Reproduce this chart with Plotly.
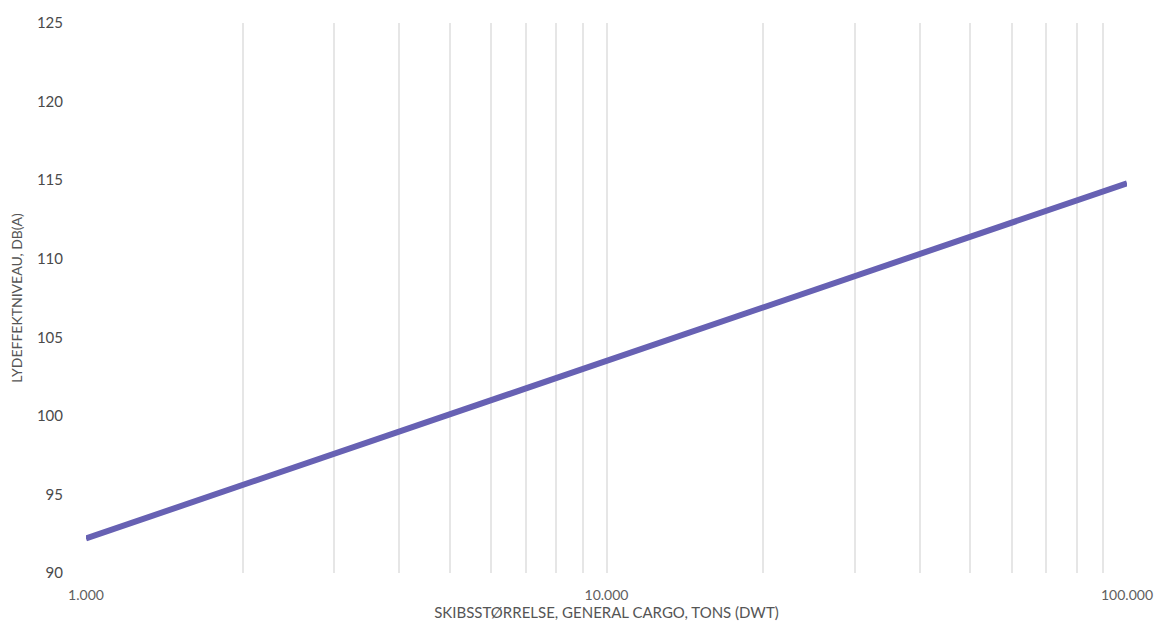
import plotly.graph_objects as go

# Data
dwt = [1000, 2000, 3000, 5000, 10000, 20000, 30000, 50000, 100000]
level_dba = [92.2, 95.6, 97.6, 100.1, 103.5, 106.9, 108.9, 111.4, 114.8]

x_tick_vals = [1000, 2000, 3000, 4000, 5000, 6000, 7000, 8000, 9000,
               10000, 20000, 30000, 40000, 50000, 60000, 70000, 80000, 90000,
               100000]
x_tick_text = ["1.000", "", "", "", "", "", "", "", "",
               "10.000", "", "", "", "", "", "", "", "",
               "100.000"]
y_tick_vals = [90, 95, 100, 105, 110, 115, 120, 125]

x_title = "SKIBSSTØRRELSE, GENERAL CARGO, TONS (DWT)"
y_title = "LYDEFFEKTNIVEAU, DB(A)"

fig = go.Figure()
fig.add_trace(go.Scatter(
    x=dwt, y=level_dba, mode="lines",
    line=dict(color="#6761b3", width=6),
    showlegend=False, hoverinfo="x+y",
))

font_family = "Lato, 'Open Sans', sans-serif"
fig.update_layout(
    width=1162, height=625,
    margin=dict(l=78, r=43, t=15, b=60),
    paper_bgcolor="white", plot_bgcolor="white",
    font=dict(family=font_family, color="#595959", size=14),
    xaxis=dict(
        type="log", range=[3, 5], automargin=False,
        tickvals=x_tick_vals, ticktext=x_tick_text,
        showgrid=True, gridcolor="#e6e6e6", gridwidth=1.5,
        zeroline=False, showline=False, ticks="",
        ticklabelstandoff=12,
        tickfont=dict(size=14, color="#606060"),
        title=dict(text=x_title, font=dict(size=15, color="#555555"), standoff=2),
    ),
    yaxis=dict(
        range=[90, 125], tickvals=y_tick_vals, automargin=False,
        showgrid=False, zeroline=False, showline=False, ticks="",
        ticklabelstandoff=22,
        tickfont=dict(size=15, color="#4a4a4a"),
        title=dict(text=y_title, font=dict(size=14, color="#555555"), standoff=17),
    ),
)

fig.write_html("out.html")
